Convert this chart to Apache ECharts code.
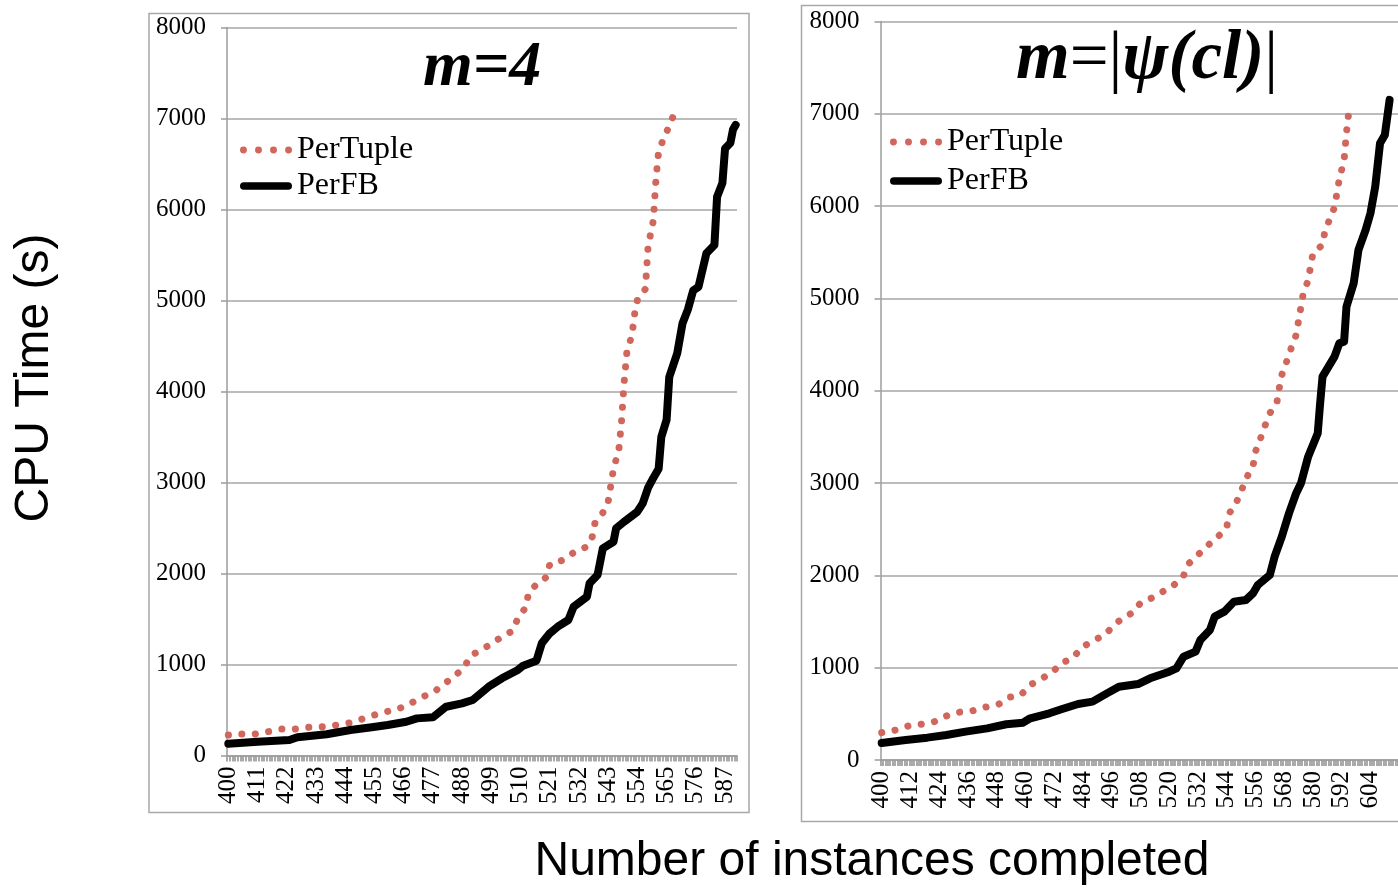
<!DOCTYPE html>
<html>
<head>
<meta charset="utf-8">
<script src="https://cdn.jsdelivr.net/npm/echarts@6/dist/echarts.min.js"></script>
<style>
html,body{margin:0;padding:0;background:#fff;}
#chart{width:1398px;height:890px;}
</style>
</head>
<body>
<div id="chart"></div>
<script>
// ---------- data ----------
// left panel: m=4, instances 400..591
const leftFirst = 400, leftLast = 591;
const leftPerTupleX = [400,405,410,415,420,425,430,436,441,446,450,455,459,464,469,473,478,481,485,489,491,495,499,503,507,509,512,513,516,520,521,526,530,535,537,538,541,543,545,547,548,549,550,552,553,554,557,558,559,560,561,562,564,566,568];
const leftPerTupleY = [225,236,236,262,291,291,310,316,335,360,398,445,478,511,580,640,712,782,866,976,1093,1159,1225,1306,1368,1508,1629,1782,1881,1965,2101,2148,2229,2295,2404,2552,2668,2789,3150,3357,3660,4100,4420,4630,4860,5005,5126,5585,5738,5877,6335,6640,6789,6918,7064];
const leftPerFBX = [400,411,423,426,437,446,454,460,467,471,477,482,488,492,498,503,509,511,516,518,521,524,528,530,535,536,539,541,545,546,549,554,556,558,560,562,563,565,566,569,571,573,575,577,580,583,584,586,587,589,590,591];
const leftPerFBY = [130,152,170,200,233,280,310,335,371,408,420,536,573,610,756,848,940,987,1042,1233,1343,1415,1489,1635,1745,1892,1984,2277,2349,2497,2569,2679,2771,2940,3050,3150,3500,3690,4160,4420,4750,4900,5110,5150,5520,5610,6140,6290,6670,6730,6880,6930];

// right panel: m=|psi(cl)|, instances 400..615
const rightFirst = 400, rightLast = 615;
const rightPerTupleX = [400,406,411,417,422,427,432,438,443,449,453,458,462,467,471,475,480,483,488,493,496,500,505,508,513,518,522,526,528,532,536,540,544,545,548,550,552,555,556,558,560,562,565,566,567,569,571,573,574,575,576,578,579,580,584,585,587,589,590,591,593,594,595];
const rightPerTupleY = [296,325,368,390,415,477,517,534,571,607,679,701,813,885,946,1048,1108,1210,1289,1354,1433,1528,1600,1701,1758,1834,1896,1997,2124,2221,2322,2409,2517,2669,2788,2907,3044,3185,3340,3475,3622,3756,3882,4038,4171,4315,4467,4605,4760,4911,5063,5193,5345,5490,5580,5731,5858,5988,6140,6291,6500,6800,7031];
const rightPerFBX = [400,410,419,427,435,444,452,459,462,470,475,482,488,494,499,507,512,520,523,526,531,533,537,539,543,547,552,555,557,562,564,567,570,573,575,578,582,583,584,589,591,593,594,597,599,602,604,606,608,610,612];
const rightPerFBY = [185,217,242,271,307,343,387,404,452,506,549,607,632,722,794,823,885,957,993,1119,1174,1300,1408,1553,1607,1715,1733,1806,1896,2004,2203,2419,2673,2890,2998,3286,3540,3865,4153,4370,4514,4532,4911,5165,5526,5742,5923,6211,6681,6771,7151];

const yMin = 0, yMax = 8000, yStep = 1000;
const seriesNames = ['PerTuple', 'PerFB'];
const leftTitle = 'm=4';
const xAxisTitle = 'Number of instances completed';
const yAxisTitle = 'CPU Time (s)';

// ---------- build ----------
function cats(a, b) { const r = []; for (let i = a; i <= b; i++) r.push(String(i)); return r; }
function pairs(xs, ys) { return xs.map((x, i) => [String(x), ys[i]]); }

const serif = 'Liberation Serif';
const sans = 'Liberation Sans';
const gridGray = '#a6a6a6';
const axisGray = '#9c9c9c';
const red = '#d0665c';

function xAxisCfg(gridIndex, categories, labelInterval) {
  return {
    type: 'category', gridIndex, data: categories, boundaryGap: true,
    axisLine: { show: true, lineStyle: { color: axisGray, width: 1.5 } },
    axisTick: { show: true, interval: 0, length: 6, lineStyle: { color: axisGray, width: 1.7 } },
    axisLabel: { interval: labelInterval, rotate: 90, margin: 11, fontFamily: serif, fontSize: 25, color: '#000' },
    splitLine: { show: false }
  };
}
function yAxisCfg(gridIndex) {
  return {
    type: 'value', gridIndex, min: yMin, max: yMax, interval: yStep,
    axisLine: { show: true, lineStyle: { color: axisGray, width: 1.5 } },
    axisTick: { show: true, length: 6, lineStyle: { color: axisGray, width: 1.5 } },
    axisLabel: { margin: 21, fontFamily: serif, fontSize: 25, color: '#000', formatter: v => String(v) },
    splitLine: { show: true, lineStyle: { color: gridGray, width: 1.5 } }
  };
}
function tupleSeries(idx, data) {
  return {
    name: seriesNames[0], type: 'line', xAxisIndex: idx, yAxisIndex: idx, data,
    symbol: 'none', smooth: false, color: red,
    lineStyle: { color: red, width: 7, type: [0.1, 13.4], cap: 'round', join: 'round' },
    z: 3
  };
}
function fbSeries(idx, data) {
  return {
    name: seriesNames[1], type: 'line', xAxisIndex: idx, yAxisIndex: idx, data,
    symbol: 'none', smooth: false, color: '#000',
    lineStyle: { color: '#000', width: 8, cap: 'round', join: 'round' },
    z: 4
  };
}
// legend icons: four round dots / a thick bar (shapes only, not data)
const dotIcon = 'path://' + [3.4, 18.2, 33, 47.8].map(cx =>
  `M${cx - 3.4},3.4a3.4,3.4 0 1,0 6.8,0a3.4,3.4 0 1,0 -6.8,0Z`).join('');
const barIcon = 'path://M3.8,0L48.2,0A3.8,3.8 0 0,1 48.2,7.6L3.8,7.6A3.8,3.8 0 0,1 3.8,0Z';
const legendText = { fontFamily: serif, fontSize: 32, color: '#000', lineHeight: 32 };
function legendCfg(left, top, gap) {
  return {
    left, top, padding: 0, orient: 'vertical', itemWidth: 52, itemHeight: 16, itemGap: gap,
    symbolKeepAspect: true, selectedMode: false, textStyle: legendText,
    itemStyle: { borderWidth: 0 },
    data: [{ name: seriesNames[0], icon: dotIcon }, { name: seriesNames[1], icon: barIcon }]
  };
}

const option = {
  animation: false,
  backgroundColor: '#fff',
  title: [
    { text: leftTitle, left: 482, top: 36, padding: 0, textAlign: 'center',
      textStyle: { fontFamily: serif, fontStyle: 'italic', fontWeight: 'bold', fontSize: 64, color: '#000', lineHeight: 64 } },
    { text: '{bi|m}{n|=|}{bi|ψ(cl)}{n||}', left: 1147, top: 26, padding: 0, textAlign: 'center',
      textStyle: { fontFamily: serif, fontSize: 69, color: '#000', lineHeight: 69,
        rich: {
          bi: { fontFamily: serif, fontStyle: 'italic', fontWeight: 'bold', fontSize: 69, color: '#000', lineHeight: 69 },
          n: { fontFamily: serif, fontStyle: 'normal', fontWeight: 'normal', fontSize: 69, color: '#000', lineHeight: 69 }
        } } },
    { text: xAxisTitle, left: 872, top: 837, padding: 0, textAlign: 'center',
      textStyle: { fontFamily: sans, fontWeight: 'normal', fontSize: 48, color: '#000', lineHeight: 50 } }
  ],
  legend: [ legendCfg(240, 134, 4), legendCfg(890, 126, 7) ],
  grid: [
    { left: 227, top: 27.5, width: 510, height: 728 },
    { left: 880.5, top: 21.5, width: 525, height: 738.5 }
  ],
  xAxis: [
    xAxisCfg(0, cats(leftFirst, leftLast), 10),
    xAxisCfg(1, cats(rightFirst, rightLast), 11)
  ],
  yAxis: [ yAxisCfg(0), yAxisCfg(1) ],
  graphic: [
    { type: 'rect', shape: { x: 149, y: 13.5, width: 600, height: 799 }, silent: true,
      style: { fill: 'none', stroke: '#a8a8a8', lineWidth: 1.5 }, z: -1 },
    { type: 'rect', shape: { x: 801.5, y: 5.5, width: 700, height: 816 }, silent: true,
      style: { fill: 'none', stroke: '#a8a8a8', lineWidth: 1.5 }, z: -1 },
    { type: 'text', x: 35, y: 378, rotation: Math.PI / 2, silent: true,
      style: { text: yAxisTitle, fontFamily: sans, fontSize: 48, fill: '#000', align: 'center', verticalAlign: 'middle' } }
  ],
  series: [
    tupleSeries(0, pairs(leftPerTupleX, leftPerTupleY)),
    fbSeries(0, pairs(leftPerFBX, leftPerFBY)),
    tupleSeries(1, pairs(rightPerTupleX, rightPerTupleY)),
    fbSeries(1, pairs(rightPerFBX, rightPerFBY))
  ]
};
const chart = echarts.init(document.getElementById('chart'), null, { renderer: 'canvas' });
chart.setOption(option);
</script>
</body>
</html>
